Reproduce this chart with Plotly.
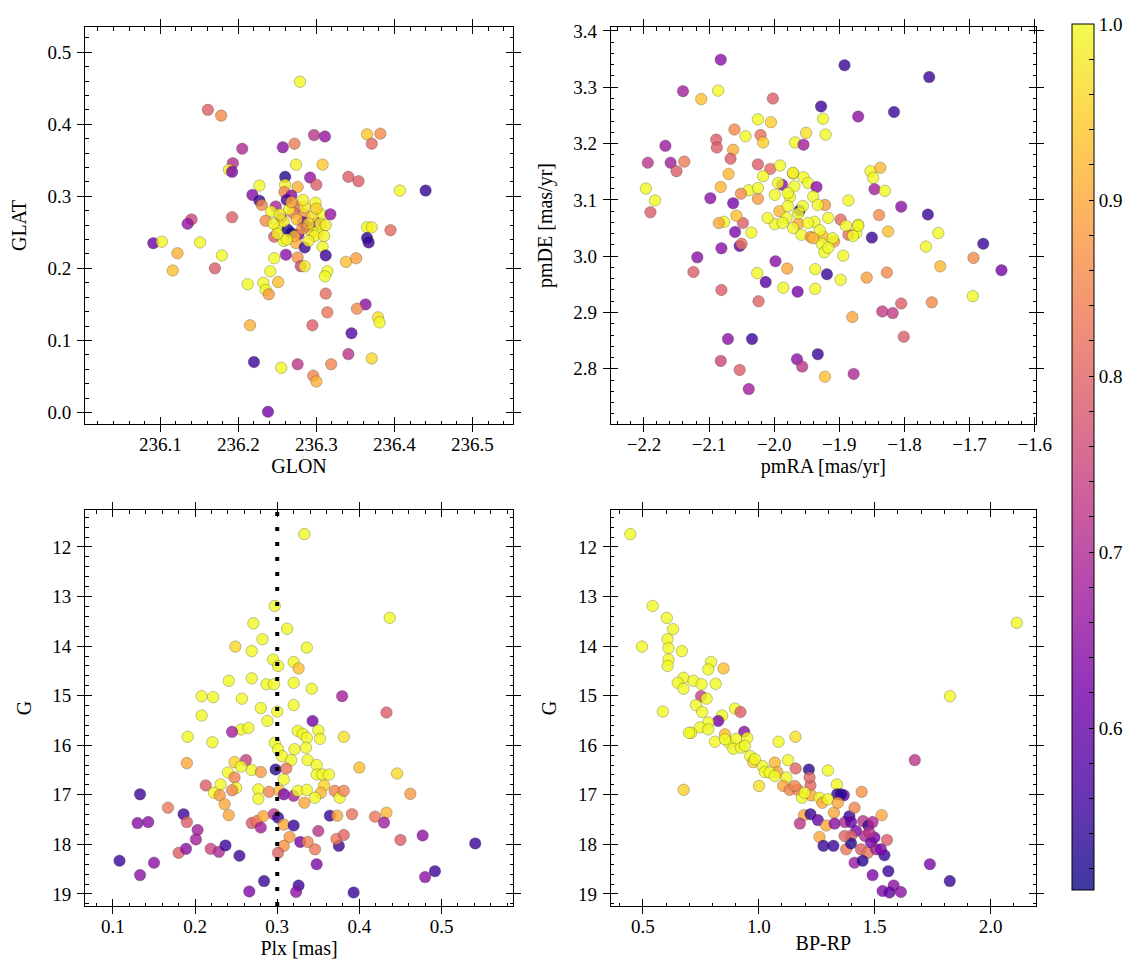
import plotly.graph_objects as go
import plotly.colors as pc

# ---------------- data ----------------
# Panel 1: sky positions
glon = [236.279, 236.161, 236.178, 236.297, 236.311, 236.365, 236.382, 236.371, 236.272, 236.257,
        236.205, 236.193, 236.188, 236.192, 236.274, 236.308, 236.260, 236.292, 236.300, 236.341,
        236.354, 236.407, 236.440, 236.227, 236.260, 236.276, 236.218, 236.227, 236.230, 236.259,
        236.268, 236.262, 236.299, 236.248, 236.276, 236.242, 236.270, 236.285, 236.306, 236.318,
        236.255, 236.235, 236.192, 236.140, 236.135, 236.283, 236.300, 236.251, 236.263, 236.268,
        236.287, 236.277, 236.294, 236.302, 236.365, 236.371, 236.395, 236.365, 236.367, 236.091,
        236.102, 236.151, 236.122, 236.116, 236.170, 236.179, 236.246, 236.258, 236.274, 236.285,
        236.308, 236.312, 236.261, 236.246, 236.276, 236.280, 236.285, 236.338, 236.351, 236.241,
        236.314, 236.311, 236.212, 236.232, 236.251, 236.235, 236.239, 236.312, 236.314, 236.363,
        236.352, 236.379, 236.381, 236.215, 236.295, 236.345, 236.220, 236.255, 236.276, 236.319,
        236.341, 236.371, 236.296, 236.300, 236.238,
        236.265, 236.285, 236.295, 236.275, 236.258, 236.290, 236.305, 236.250, 236.272, 236.298,
        236.312, 236.282, 236.262, 236.290, 236.253, 236.300, 236.245, 236.283, 236.268, 236.310]
glat = [0.459, 0.420, 0.412, 0.385, 0.383, 0.386, 0.387, 0.373, 0.373, 0.368,
        0.366, 0.346, 0.337, 0.334, 0.344, 0.344, 0.327, 0.326, 0.316, 0.327,
        0.321, 0.308, 0.308, 0.315, 0.316, 0.313, 0.302, 0.294, 0.288, 0.306,
        0.301, 0.295, 0.291, 0.286, 0.286, 0.279, 0.277, 0.275, 0.275, 0.275,
        0.270, 0.266, 0.271, 0.268, 0.262, 0.264, 0.263, 0.256, 0.254, 0.249,
        0.258, 0.247, 0.251, 0.251, 0.257, 0.257, 0.253, 0.242, 0.236, 0.235,
        0.237, 0.236, 0.221, 0.197, 0.200, 0.218, 0.244, 0.238, 0.235, 0.229,
        0.230, 0.218, 0.219, 0.214, 0.215, 0.203, 0.203, 0.209, 0.214, 0.196,
        0.196, 0.189, 0.178, 0.180, 0.181, 0.170, 0.164, 0.165, 0.139, 0.150,
        0.144, 0.132, 0.125, 0.121, 0.121, 0.110, 0.070, 0.062, 0.067, 0.067,
        0.081, 0.075, 0.051, 0.043, 0.001,
        0.282, 0.285, 0.272, 0.268, 0.265, 0.262, 0.262, 0.248, 0.245, 0.245,
        0.260, 0.255, 0.240, 0.238, 0.275, 0.283, 0.262, 0.295, 0.292, 0.245]
prob_sky = [1.00, 0.79, 0.86, 0.72, 0.66, 0.94, 0.86, 0.81, 0.84, 0.65,
            0.70, 0.71, 0.98, 0.62, 0.99, 0.94, 0.53, 0.66, 0.79, 0.79,
            0.79, 1.00, 0.54, 1.00, 0.99, 0.91, 0.64, 0.55, 0.86, 0.85,
            0.65, 0.56, 1.00, 0.69, 0.81, 1.00, 0.83, 0.86, 1.00, 0.66,
            0.71, 0.86, 0.79, 0.75, 0.66, 0.62, 0.65, 1.00, 0.53, 0.52,
            0.53, 0.63, 0.95, 1.00, 1.00, 0.99, 0.81, 0.53, 0.55, 0.61,
            1.00, 1.00, 0.91, 0.93, 0.79, 1.00, 0.79, 1.00, 0.91, 0.55,
            1.00, 0.55, 0.65, 1.00, 0.87, 0.75, 0.99, 0.93, 0.89, 1.00,
            1.00, 1.00, 1.00, 1.00, 0.93, 1.00, 0.88, 0.81, 0.83, 0.65,
            0.86, 0.97, 1.00, 0.91, 0.79, 0.58, 0.55, 1.00, 0.72, 0.85,
            0.72, 0.96, 0.85, 0.91, 0.62,
            0.99, 0.98, 0.97, 0.93, 0.99, 0.96, 0.99, 0.99, 0.92, 0.99,
            0.98, 0.88, 0.99, 0.99, 0.99, 0.95, 0.99, 0.99, 0.90, 0.99]

# Panel 2: proper motions
pmra = [-2.082, -1.892, -1.762, -2.140, -2.086, -2.112, -2.002, -1.928, -1.816, -1.871,
        -2.025, -2.005, -1.925, -1.921, -2.061, -2.044, -2.021, -2.017, -1.951, -1.968,
        -1.955, -2.089, -2.088, -2.167, -2.063, -2.067, -2.194, -2.159, -2.150, -2.138,
        -2.025, -2.006, -1.991, -2.017, -2.070, -1.971, -1.955, -1.969, -1.948, -1.988,
        -1.935, -2.082, -2.039, -2.051, -2.025, -1.999, -1.976, -1.940, -1.922, -1.933,
        -2.098, -2.063, -2.197, -2.183, -2.190, -1.961, -1.992, -1.999, -1.981, -1.963,
        -1.971, -1.938, -1.917, -1.958, -1.944, -1.925, -1.927, -1.923, -1.908, -1.898,
        -1.886, -1.871, -1.874, -1.886, -1.894, -1.850, -1.825, -1.839, -1.852, -1.848,
        -1.837, -1.846, -1.830, -1.805, -1.764, -1.748, -1.767, -1.679, -1.694, -1.651,
        -1.745, -1.695, -1.758, -1.805, -1.818, -1.834, -1.801, -1.880, -1.827, -1.858,
        -1.898, -1.919, -1.937, -1.937, -1.964, -1.986, -1.980, -1.998, -2.026, -2.013,
        -2.024, -2.081, -2.053, -2.050, -2.060, -2.035, -2.048, -2.058, -2.077, -2.085,
        -2.118, -2.124, -2.081, -2.071, -2.034, -2.082, -2.053, -2.039, -1.965, -1.957,
        -1.933, -1.922, -1.878,
        -1.963, -1.948, -1.930, -1.910, -1.940, -1.956, -1.979, -1.994, -1.971, -1.917,
        -1.890, -1.871, -1.879, -2.010, -1.987, -2.025, -1.979]
pmde = [3.349, 3.339, 3.318, 3.293, 3.294, 3.279, 3.280, 3.266, 3.256, 3.248,
        3.243, 3.238, 3.244, 3.216, 3.225, 3.213, 3.215, 3.202, 3.219, 3.202,
        3.198, 3.207, 3.193, 3.196, 3.189, 3.173, 3.166, 3.166, 3.151, 3.168,
        3.163, 3.155, 3.161, 3.142, 3.146, 3.147, 3.140, 3.124, 3.130, 3.127,
        3.123, 3.123, 3.117, 3.111, 3.102, 3.109, 3.105, 3.106, 3.091, 3.091,
        3.103, 3.094, 3.120, 3.099, 3.078, 3.081, 3.080, 3.057, 3.068, 3.058,
        3.050, 3.061, 3.068, 3.038, 3.034, 3.035, 3.022, 3.007, 3.026, 3.065,
        3.099, 3.056, 3.041, 3.038, 3.001, 3.033, 3.044, 3.073, 3.151, 3.139,
        3.157, 3.119, 3.116, 3.088, 3.074, 3.041, 3.017, 3.022, 2.997, 2.975,
        2.982, 2.929, 2.918, 2.916, 2.899, 2.902, 2.857, 2.892, 2.971, 2.962,
        2.958, 2.968, 2.977, 2.942, 2.937, 2.944, 2.978, 2.991, 2.970, 2.954,
        2.920, 3.014, 3.018, 3.022, 3.043, 3.042, 3.059, 3.072, 3.061, 3.059,
        2.998, 2.972, 2.940, 2.853, 2.853, 2.814, 2.798, 2.764, 2.817, 2.804,
        2.826, 2.786, 2.791,
        3.076, 3.059, 3.046, 3.032, 3.032, 3.089, 3.112, 3.130, 3.148, 3.015,
        3.054, 3.054, 3.036, 3.068, 3.059, 3.121, 3.089]
prob_pm = [0.65, 0.55, 0.55, 0.68, 1.00, 0.93, 0.79, 0.55, 0.55, 0.65,
           1.00, 0.95, 1.00, 1.00, 0.86, 1.00, 0.82, 0.95, 0.97, 1.00,
           0.68, 0.79, 0.79, 0.67, 0.91, 0.79, 0.72, 0.68, 0.79, 0.84,
           0.79, 0.81, 1.00, 1.00, 0.92, 0.93, 1.00, 1.00, 1.00, 0.65,
           0.65, 0.92, 1.00, 0.86, 0.88, 1.00, 1.00, 1.00, 0.88, 1.00,
           0.65, 0.62, 1.00, 1.00, 0.79, 0.52, 0.92, 1.00, 1.00, 0.90,
           1.00, 1.00, 1.00, 1.00, 0.88, 0.93, 1.00, 1.00, 0.88, 0.81,
           1.00, 1.00, 1.00, 0.82, 1.00, 0.55, 0.93, 0.86, 1.00, 1.00,
           0.92, 0.68, 1.00, 0.65, 0.55, 1.00, 1.00, 0.55, 0.86, 0.62,
           0.92, 1.00, 0.86, 0.79, 0.73, 0.73, 0.79, 0.90, 0.86, 0.89,
           1.00, 0.55, 1.00, 1.00, 0.62, 1.00, 0.90, 0.65, 1.00, 0.58,
           0.80, 0.65, 0.60, 0.82, 0.63, 1.00, 0.79, 0.93, 1.00, 0.90,
           0.65, 0.79, 0.79, 0.65, 0.55, 0.75, 0.79, 0.68, 0.65, 0.72,
           0.55, 0.93, 0.70,
           1.00, 1.00, 1.00, 1.00, 0.92, 1.00, 1.00, 1.00, 1.00, 1.00,
           1.00, 1.00, 1.00, 1.00, 1.00, 1.00, 1.00]

# Panel 3: parallax vs G
plx = [0.333, 0.297, 0.437, 0.271, 0.312, 0.282, 0.249, 0.269, 0.336, 0.295,
       0.301, 0.320, 0.326, 0.241, 0.269, 0.287, 0.296, 0.320, 0.342, 0.208,
       0.222, 0.257, 0.280, 0.300, 0.320, 0.379, 0.433, 0.208, 0.288, 0.343,
       0.256, 0.265, 0.245, 0.325, 0.331, 0.350, 0.352, 0.336, 0.191, 0.221,
       0.381, 0.297, 0.301, 0.321, 0.335, 0.306, 0.317, 0.337, 0.248, 0.262,
       0.269, 0.256, 0.280, 0.190, 0.240, 0.248, 0.298, 0.311, 0.308, 0.348,
       0.348, 0.355, 0.363, 0.400, 0.446, 0.357, 0.353, 0.213, 0.231, 0.223,
       0.250, 0.245, 0.230, 0.277, 0.277, 0.290, 0.303, 0.308, 0.320, 0.325,
       0.336, 0.333, 0.346, 0.370, 0.376, 0.381, 0.462, 0.133, 0.236, 0.167,
       0.241, 0.186, 0.190, 0.130, 0.143, 0.203, 0.201, 0.219, 0.180, 0.189,
       0.229, 0.237, 0.254, 0.108, 0.150, 0.133, 0.269, 0.275, 0.280, 0.283,
       0.296, 0.301, 0.308, 0.320, 0.315, 0.308, 0.301, 0.328, 0.346, 0.337,
       0.350, 0.348, 0.364, 0.373, 0.375, 0.372, 0.381, 0.391, 0.419, 0.433,
       0.430, 0.450, 0.477, 0.541, 0.492, 0.480, 0.393, 0.326, 0.323, 0.284,
       0.266]
g_plx = [11.74, 13.19, 13.43, 13.54, 13.65, 13.86, 14.01, 14.10, 14.03, 14.27,
         14.40, 14.32, 14.45, 14.70, 14.65, 14.77, 14.77, 14.74, 14.86, 15.01,
         15.03, 15.06, 15.25, 15.32, 15.19, 15.01, 15.34, 15.40, 15.51, 15.51,
         15.68, 15.65, 15.73, 15.71, 15.77, 15.70, 15.87, 15.85, 15.83, 15.94,
         15.83, 15.95, 16.08, 16.08, 16.05, 16.22, 16.30, 16.30, 16.34, 16.30,
         16.50, 16.43, 16.54, 16.36, 16.55, 16.65, 16.49, 16.47, 16.69, 16.40,
         16.59, 16.59, 16.59, 16.45, 16.57, 16.81, 16.96, 16.81, 16.79, 16.96,
         16.86, 16.91, 17.01, 16.89, 17.08, 16.94, 16.92, 16.99, 17.02, 16.92,
         16.90, 17.16, 17.06, 16.92, 17.06, 16.92, 16.98, 16.99, 17.19, 17.26,
         17.41, 17.39, 17.55, 17.57, 17.55, 17.71, 17.90, 18.09, 18.17, 18.09,
         18.15, 18.02, 18.23, 18.33, 18.37, 18.62, 17.57, 17.53, 17.66, 17.43,
         17.39, 17.46, 17.60, 17.62, 17.85, 18.03, 18.17, 17.95, 18.10, 17.95,
         17.73, 18.40, 17.42, 17.42, 18.03, 17.89, 17.81, 17.39, 17.44, 17.36,
         17.56, 17.91, 17.82, 17.98, 18.54, 18.66, 18.97, 18.83, 18.96, 18.74,
         18.95]
prob_plx = [1.00, 1.00, 1.00, 1.00, 1.00, 1.00, 0.96, 1.00, 1.00, 1.00,
            1.00, 1.00, 0.93, 1.00, 1.00, 1.00, 1.00, 1.00, 1.00, 1.00,
            1.00, 1.00, 1.00, 1.00, 1.00, 0.68, 0.79, 1.00, 1.00, 0.62,
            1.00, 1.00, 0.68, 1.00, 1.00, 1.00, 1.00, 1.00, 1.00, 1.00,
            0.97, 1.00, 1.00, 1.00, 1.00, 1.00, 1.00, 1.00, 0.95, 0.74,
            1.00, 1.00, 0.88, 0.90, 1.00, 0.85, 0.53, 0.83, 1.00, 1.00,
            1.00, 1.00, 1.00, 0.93, 0.96, 0.95, 0.92, 0.79, 1.00, 1.00,
            1.00, 0.85, 0.88, 1.00, 1.00, 0.85, 0.93, 0.63, 0.68, 1.00,
            1.00, 0.90, 1.00, 0.85, 1.00, 0.85, 0.88, 0.55, 0.90, 0.83,
            0.90, 0.55, 0.79, 0.65, 0.65, 0.68, 0.68, 0.75, 0.79, 0.65,
            0.70, 0.55, 0.55, 0.55, 0.65, 0.65, 0.79, 0.83, 0.68, 0.90,
            0.72, 0.55, 0.90, 0.55, 0.88, 0.87, 0.80, 0.62, 0.83, 0.85,
            0.72, 0.63, 0.55, 0.90, 0.55, 0.83, 0.80, 0.82, 0.83, 0.92,
            0.68, 0.79, 0.65, 0.55, 0.55, 0.65, 0.55, 0.55, 0.65, 0.55,
            0.63]
plx_ref = 0.3

# Panel 4: colour-magnitude diagram
bprp = [0.446, 0.542, 2.113, 0.603, 0.630, 0.606, 0.610, 0.496, 0.668, 0.610,
        0.607, 0.794, 0.782, 0.848, 0.675, 0.650, 0.675, 0.718, 0.753, 0.814,
        1.825, 0.751, 0.775, 0.729, 0.756, 0.586, 0.897, 0.921, 0.842, 0.825,
        0.782, 0.746, 0.782, 0.708, 0.937, 0.854, 0.811, 0.872, 0.903, 0.950,
        0.890, 0.923, 1.085, 1.158, 0.963, 0.976, 1.016, 1.026, 1.069, 1.080,
        1.126, 1.159, 1.119, 1.216, 1.298, 1.673, 1.001, 0.676, 1.105, 1.133,
        1.169, 1.223, 1.219, 1.337, 1.186, 1.226, 1.262, 1.274, 1.338, 1.367,
        1.355, 1.444, 1.195, 1.177, 1.223, 1.255, 1.291, 1.324, 1.327, 1.372,
        1.391, 1.413, 1.420, 1.450, 1.473, 1.491, 1.530, 1.398, 1.458, 1.499,
        1.553, 1.262, 1.279, 1.322, 1.377, 1.398, 1.441, 1.470, 1.484, 1.506,
        1.542, 1.413, 1.448, 1.559, 1.738, 1.824, 1.491, 1.582, 1.534, 1.564,
        1.613, 0.699, 0.854, 0.940, 0.983, 1.047, 1.069, 1.198, 1.298, 1.155,
        1.370, 1.477, 1.527, 1.341, 1.398]
g_cmd = [11.74, 13.19, 13.53, 13.43, 13.66, 13.86, 14.04, 14.01, 14.10, 14.27,
         14.40, 14.32, 14.47, 14.45, 14.64, 14.74, 14.86, 14.70, 14.77, 14.76,
         15.01, 15.01, 15.06, 15.19, 15.33, 15.32, 15.26, 15.33, 15.40, 15.51,
         15.54, 15.64, 15.68, 15.75, 15.73, 15.78, 15.93, 15.95, 15.87, 15.85,
         16.07, 16.05, 15.93, 15.83, 16.22, 16.34, 16.42, 16.54, 16.35, 16.54,
         16.30, 16.47, 16.65, 16.49, 16.51, 16.30, 16.82, 16.90, 16.82, 16.90,
         16.90, 16.81, 16.65, 16.79, 17.06, 17.01, 17.06, 17.16, 16.99, 17.01,
         16.99, 16.94, 17.41, 17.58, 17.39, 17.51, 17.62, 17.36, 17.58, 17.55,
         17.43, 17.26, 17.73, 17.53, 17.62, 17.55, 17.41, 17.83, 17.83, 17.86,
         17.91, 17.85, 18.03, 18.03, 18.10, 17.98, 18.10, 18.17, 17.96, 18.10,
         18.22, 18.37, 18.33, 18.54, 18.40, 18.74, 18.62, 18.83, 18.94, 18.97,
         18.96, 15.75, 15.88, 16.01, 16.28, 16.55, 16.62, 16.96, 17.09, 16.82,
         17.83, 17.76, 18.10, 17.16, 17.55]
prob_cmd = [1.00, 1.00, 1.00, 1.00, 1.00, 1.00, 1.00, 1.00, 1.00, 1.00,
            1.00, 1.00, 1.00, 0.93, 1.00, 1.00, 1.00, 1.00, 1.00, 1.00,
            1.00, 0.74, 1.00, 1.00, 1.00, 1.00, 1.00, 0.79, 1.00, 0.62,
            1.00, 1.00, 1.00, 1.00, 0.65, 0.93, 1.00, 1.00, 1.00, 1.00,
            1.00, 1.00, 1.00, 0.97, 1.00, 0.95, 1.00, 1.00, 0.92, 0.90,
            1.00, 0.80, 1.00, 0.53, 1.00, 0.72, 0.97, 0.95, 0.90, 0.85,
            0.85, 0.80, 0.80, 1.00, 1.00, 0.90, 1.00, 0.90, 0.55, 0.60,
            0.53, 0.87, 0.90, 0.72, 0.55, 0.60, 0.90, 0.90, 0.65, 0.70,
            0.55, 0.85, 0.63, 0.72, 0.55, 0.70, 0.90, 0.80, 0.70, 0.62,
            0.79, 0.90, 0.55, 0.55, 0.83, 0.53, 0.79, 0.83, 0.62, 0.68,
            0.55, 0.67, 0.53, 0.55, 0.63, 0.55, 0.63, 0.65, 0.63, 0.60,
            0.65, 1.00, 1.00, 1.00, 1.00, 1.00, 1.00, 1.00, 1.00, 0.85,
            0.80, 0.72, 0.63, 0.90, 0.60]

# ---------------- styling ----------------
FONT = "Liberation Serif"
W, H = 1133, 965
ML, MR, MT, MB = 77, 105, 19, 67


def rgba(hexcol, a=0.8):
    r, g, b = pc.hex_to_rgb(hexcol)
    return f"rgba({r},{g},{b},{a})"


plasma = pc.sequential.Plasma
n = len(plasma)
colorscale = [[i / (n - 1), rgba(c)] for i, c in enumerate(plasma)]

CMIN, CMAX = 0.508, 1.0

fig = go.Figure()


def add_scatter(x, y, c, xa, ya):
    fig.add_trace(go.Scatter(
        x=x, y=y, mode="markers", xaxis=xa, yaxis=ya, showlegend=False,
        hoverinfo="skip",
        marker=dict(size=11.5, color=c, coloraxis="coloraxis",
                    line=dict(width=0.5, color="rgba(40,40,40,0.55)")),
    ))


add_scatter(glon, glat, prob_sky, "x", "y")
add_scatter(pmra, pmde, prob_pm, "x2", "y2")
add_scatter(plx, g_plx, prob_plx, "x3", "y3")
add_scatter(bprp, g_cmd, prob_cmd, "x4", "y4")

TICK_SIZE = 19
TITLE_SIZE = 20


def axis(title, rng, dtick, domain, anchor, fmt, side_x=True, tick0=None):
    d = dict(
        domain=domain, anchor=anchor, range=rng, autorange=False,
        showline=True, linecolor="black", linewidth=1, mirror="allticks",
        ticks="inside", ticklen=7, tickwidth=1, tickcolor="black",
        showgrid=False, zeroline=False, dtick=dtick, tickformat=fmt,
        tickfont=dict(family=FONT, size=TICK_SIZE, color="black"),
        title=dict(text=title, font=dict(family=FONT, size=TITLE_SIZE, color="black"),
                   standoff=0 if side_x else 15),
        ticklabelstandoff=3 if side_x else 9,
    )
    if tick0 is not None:
        d["tick0"] = tick0
    return d


def minor_axis(rng, mdtick, domain, anchor, over, tick0):
    # overlay axis carrying only the short minor ticks
    return dict(
        domain=domain, anchor=anchor, overlaying=over, range=rng, autorange=False,
        showline=True, linecolor="black", linewidth=1, mirror="allticks",
        ticks="inside", ticklen=3.5, tickwidth=1, tickcolor="black",
        showticklabels=False, showgrid=False, zeroline=False,
        tick0=tick0, dtick=mdtick,
    )


pw = W - ML - MR
ph = H - MT - MB
xd1 = [0, (505 - ML) / pw]
xd2 = [(602.7 - ML) / pw, 1]
yd_top = [(H - MB - 416) / ph, 1]
yd_bot = [0, (H - MB - 502) / ph]

r_glon = [236.0035, 236.552]
r_glat = [-0.016, 0.535]
r_pmra = [-2.251, -1.598]
r_pmde = [2.702, 3.407]
r_plx = [0.066, 0.587]
r_g = [19.243, 11.254]
r_bprp = [0.361, 2.196]

fig.update_layout(
    template="none",
    width=W, height=H,
    margin=dict(l=ML, r=MR, t=MT, b=MB, autoexpand=False),
    paper_bgcolor="white", plot_bgcolor="white",
    font=dict(family=FONT, size=TICK_SIZE, color="black"),
    xaxis=axis("GLON", r_glon, 0.1, xd1, "y", ".1f", tick0=236.0),
    yaxis=axis("GLAT", r_glat, 0.1, yd_top, "x", ".1f", side_x=False, tick0=0),
    xaxis2=axis("pmRA [mas/yr]", r_pmra, 0.1, xd2, "y2", ".1f", tick0=-2.0),
    yaxis2=axis("pmDE [mas/yr]", r_pmde, 0.1, yd_top, "x2", ".1f", side_x=False, tick0=3.0),
    xaxis3=axis("Plx [mas]", r_plx, 0.1, xd1, "y3", ".1f", tick0=0),
    yaxis3=axis("G", r_g, 1, yd_bot, "x3", "d", side_x=False, tick0=12),
    xaxis4=axis("BP-RP", r_bprp, 0.5, xd2, "y4", ".1f", tick0=0.5),
    yaxis4=axis("G", r_g, 1, yd_bot, "x4", "d", side_x=False, tick0=12),
    xaxis5=minor_axis(r_glon, 0.02, xd1, "y", "x", 236.0),
    yaxis5=minor_axis(r_glat, 0.02, yd_top, "x", "y", 0.0),
    xaxis6=minor_axis(r_pmra, 0.02, xd2, "y2", "x2", -2.0),
    yaxis6=minor_axis(r_pmde, 0.02, yd_top, "x2", "y2", 3.0),
    xaxis7=minor_axis(r_plx, 0.02, xd1, "y3", "x3", 0.0),
    yaxis7=minor_axis(r_g, 0.2, yd_bot, "x3", "y3", 12.0),
    xaxis8=minor_axis(r_bprp, 0.1, xd2, "y4", "x4", 0.5),
    yaxis8=minor_axis(r_g, 0.2, yd_bot, "x4", "y4", 12.0),
    coloraxis=dict(
        colorscale=colorscale, cmin=CMIN, cmax=CMAX,
        colorbar=dict(
            x=(1064 - ML) / pw, xanchor="left", xpad=0, ypad=0,
            y=(H - MB - 449) / ph, yanchor="middle",
            len=(882 - 16) / ph, lenmode="fraction",
            thickness=22, thicknessmode="pixels",
            outlinewidth=1, outlinecolor="black",
            ticks="inside", ticklen=5, tickwidth=1, tickcolor="black",
            tickvals=[0.52, 0.54, 0.56, 0.58, 0.6, 0.62, 0.64, 0.66, 0.68, 0.7,
                      0.72, 0.74, 0.76, 0.78, 0.8, 0.82, 0.84, 0.86, 0.88, 0.9,
                      0.92, 0.94, 0.96, 0.98, 1.0],
            ticktext=["", "", "", "", "0.6", "", "", "", "", "0.7",
                      "", "", "", "", "0.8", "", "", "", "", "0.9",
                      "", "", "", "", "1.0"],
            tickfont=dict(family=FONT, size=TICK_SIZE, color="black"),
        ),
    ),
)

# empty traces so the minor-tick overlay axes are instantiated
for xa, ya in [("x5", "y"), ("x", "y5"), ("x6", "y2"), ("x2", "y6"),
               ("x7", "y3"), ("x3", "y7"), ("x8", "y4"), ("x4", "y8")]:
    fig.add_trace(go.Scatter(x=[], y=[], xaxis=xa, yaxis=ya, mode="markers",
                             showlegend=False, hoverinfo="skip"))

fig.add_shape(type="line", xref="x3", yref="y3 domain", x0=plx_ref, x1=plx_ref, y0=0, y1=1,
              line=dict(color="black", width=4, dash="4px,11px"), layer="above")

fig.write_html("out.html")
